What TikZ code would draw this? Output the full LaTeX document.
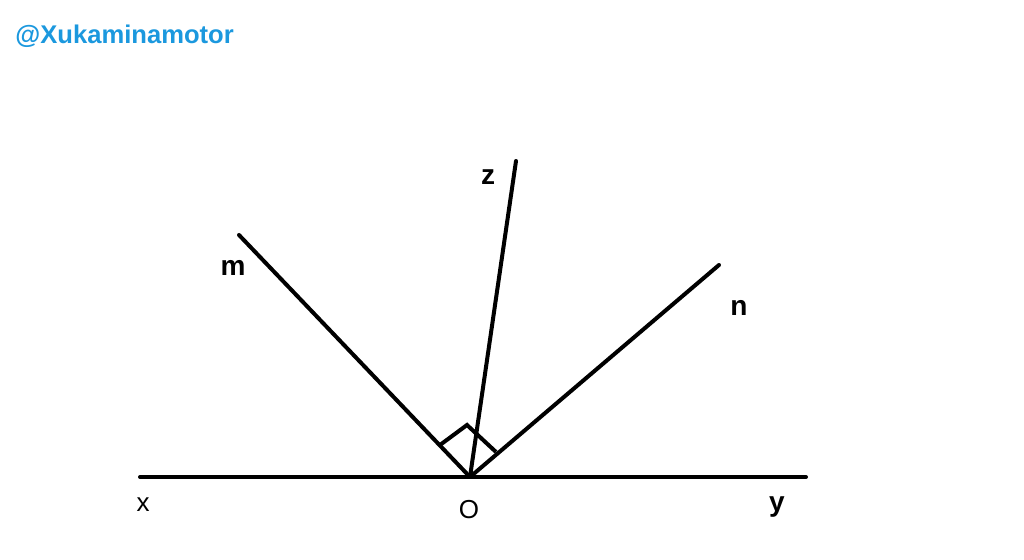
\documentclass[tikz,border=0pt]{standalone}
\usepackage{fontspec}
\setmainfont{Liberation Sans}
\usetikzlibrary{positioning}
\definecolor{tagblue}{RGB}{27,152,222}
\tikzset{
  ray/.style={line width=2pt, line cap=round},
  lbl/.style={font=\fontsize{14}{16}\selectfont\bfseries, inner sep=0pt},
  lblthin/.style={font=\fontsize{13}{15}\selectfont, inner sep=0pt}
}

\begin{document}
\begin{tikzpicture}[x=0.5pt,y=-0.5pt]
  \useasboundingbox (0,0) rectangle (1024,560);
  \node[anchor=west, inner sep=0pt, text=tagblue, font=\fontsize{12.8}{14}\selectfont\bfseries] (tag) at (15,36) {@Xukaminamotor};

  \coordinate (O) at (470,477);
  \coordinate (x) at (140,477);
  \coordinate (y) at (806,477);
  \coordinate (m) at (239,235);
  \coordinate (z) at (516,161);
  \coordinate (n) at (719,265);

  \draw [ray] (x) -- (y);
  \draw [ray] (O) -- (m);
  \draw [ray] (O) -- (z);
  \draw [ray] (O) -- (n);

  % right angle mark
  \coordinate (am) at (440,445);
  \coordinate (an) at (496,452);
  \coordinate (aa) at (467,425);
  \draw [line width=2pt, line join=miter] (am) -- (aa) -- (an);

  \node[lbl] (lm) at (233,268) {m};
  \node[lbl] (lz) at (488,177) {z};
  \node[lbl] (ln) at (739,308) {n};
  \node[lbl] (ly) at (777,507) {y};
  \node[lblthin] (lx) at (143,505) {x};
  \node[lblthin] (lO) at (469,510) {O};
\end{tikzpicture}
\end{document}
